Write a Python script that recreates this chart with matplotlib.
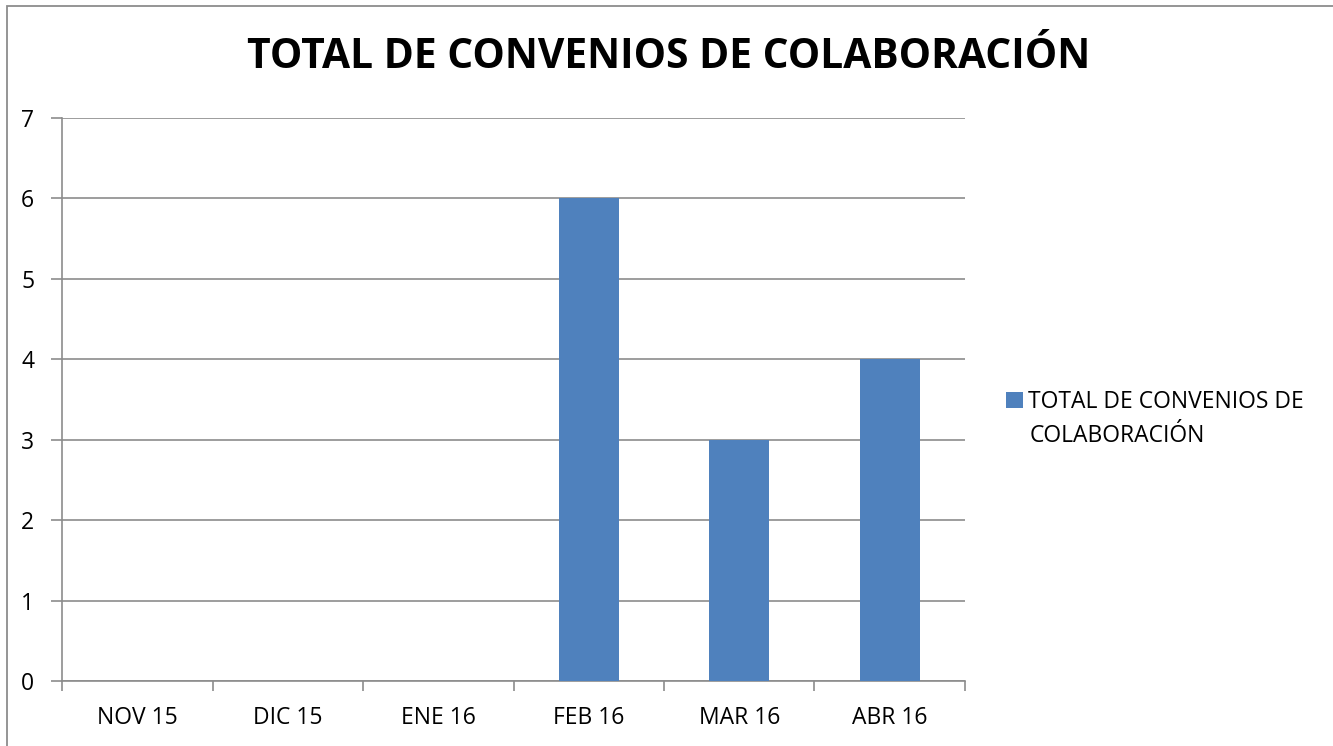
import matplotlib
matplotlib.use('Agg')
import matplotlib.pyplot as plt
from matplotlib.patches import Rectangle
import numpy as np

plt.rcParams.update({
    'font.family': ['Open Sans', 'DejaVu Sans'],
    'font.size': 14,
})

# datos
meses = ['NOV 15', 'DIC 15', 'ENE 16', 'FEB 16', 'MAR 16', 'ABR 16']
convenios = [0, 0, 0, 6, 3, 4]
serie = ['TOTAL DE CONVENIOS DE', 'COLABORACIÓN']
titulo = 'TOTAL DE CONVENIOS DE COLABORACIÓN'

fig = plt.figure(figsize=(13.33, 7.46), dpi=100)
ax = fig.add_axes([62/1333, 1 - 681/746, (965-62)/1333, (681-118)/746])

# marco exterior del gráfico
fig.patches.append(Rectangle((7/1333, -0.1), 1.2, 1 - 6/746 + 0.1,
                             transform=fig.transFigure, fill=False,
                             edgecolor='#8c8c8c', lw=1.3))

x = np.arange(len(meses))
ax.bar(x, convenios, width=0.4, color='#4f81bd', label=serie[0], zorder=3)

ax.set_xlim(-0.5, len(meses) - 0.5)
ax.set_ylim(0, 7)
ax.set_yticks(range(0, 8))
ax.yaxis.grid(True, color='#8c8c8c', lw=1.2, zorder=0)

# ticks del eje x en los límites de categoría
ax.set_xticks(np.arange(-0.5, len(meses)), minor=False)
ax.set_xticklabels([])
ax.set_xticks(x, minor=True)
ax.set_xticklabels(meses, minor=True)
ax.tick_params(axis='x', which='major', length=7, color='#8c8c8c', width=1.2)
ax.tick_params(axis='x', which='minor', length=0, pad=18, labelsize=16.5)
ax.tick_params(axis='y', length=8, color='#8c8c8c', width=1.2, pad=12, labelsize=16.5)

for s in ['top', 'right']:
    ax.spines[s].set_visible(False)
for s in ['left', 'bottom']:
    ax.spines[s].set_color('#8c8c8c')
    ax.spines[s].set_linewidth(1.2)

fig.text(669/1333, 1 - 58/746, titulo, ha='center', va='center',
         fontsize=29.3, fontweight='bold')

leg = ax.legend(loc='center left', bbox_to_anchor=(1.0328, 1 - (402-118)/563),
                frameon=False, fontsize=16.5, handlelength=0.75,
                handleheight=0.75, handletextpad=0.19, borderpad=0)
fig.text(1030/1333, 1 - 436/746, serie[1], ha='left', va='center', fontsize=16.5)

fig.savefig('out.png', dpi=100)
